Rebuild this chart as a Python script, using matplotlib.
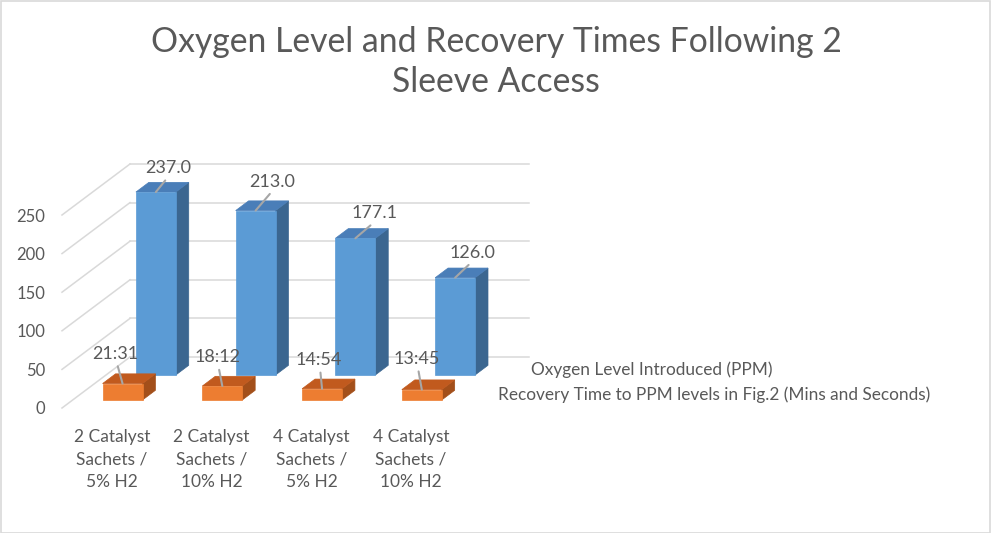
import matplotlib.pyplot as plt
import numpy as np
from matplotlib.patches import Polygon

plt.rcParams['font.family'] = ['Lato', 'DejaVu Sans']

# ---- data ----
categories = [
    "2 Catalyst\nSachets /\n5% H2",
    "2 Catalyst\nSachets /\n10% H2",
    "4 Catalyst\nSachets /\n5% H2",
    "4 Catalyst\nSachets /\n10% H2",
]
oxygen_ppm = [237.0, 213.0, 177.1, 126.0]
recovery_mins = [21.31, 18.12, 14.54, 13.45]
recovery_labels = ["21:31", "18:12", "14:54", "13:45"]
series_names = [
    "Recovery Time to PPM levels in Fig.2 (Mins and Seconds)",
    "Oxygen Level Introduced (PPM)",
]
y_ticks = [0, 50, 100, 150, 200, 250]

# ---- layout / style ----
W, H = 991, 533
FRONT_L, FRONT_R = 62, 461      # px, front plane x range
FRONT_B, FRONT_T = 408, 215     # px, front plane y for 0 and 250
DEPTH_PX = (68, -51)            # px offset from front plane to back wall
SX = (FRONT_R - FRONT_L) / 4.0
SY = (FRONT_B - FRONT_T) / 250.0
DX = DEPTH_PX[0] / SX           # category units per unit depth
DY = -DEPTH_PX[1] / SY          # value units per unit depth

BAR_W = 0.4
BAR_OFF = 0.3
BAR_DZ = 0.19
ROW_Z = [0.157, 0.647]          # orange row, blue row

BLUE = ("#5B9BD5", "#3B6690", "#4A7EB8")     # front, side, top
ORANGE = ("#ED7D31", "#A34F1A", "#C15A1E")
TEXT = "#595959"
GRID = "#D9D9D9"
LEADER = "#A6A6A6"

blue_label_off = [(12, 24), (17, 29), (19, 25), (17, 25)]
orange_label_off = [(-7, 30), (-5, 29), (-3, 29), (-5, 31)]


def proj(x, y, z):
    return (x + z * DX, y + z * DY)


def draw_bar(ax, x0, h, z0, colors):
    x1 = x0 + BAR_W
    z1 = z0 + BAR_DZ
    front = [proj(x0, 0, z0), proj(x1, 0, z0), proj(x1, h, z0), proj(x0, h, z0)]
    side = [proj(x1, 0, z0), proj(x1, 0, z1), proj(x1, h, z1), proj(x1, h, z0)]
    top = [proj(x0, h, z0), proj(x1, h, z0), proj(x1, h, z1), proj(x0, h, z1)]
    for verts, col in ((side, colors[1]), (top, colors[2]), (front, colors[0])):
        ax.add_patch(Polygon(verts, closed=True, facecolor=col, edgecolor=col,
                             linewidth=0.5, clip_on=False, zorder=3))
    return proj(x0 + BAR_W / 2, h, z0)


fig = plt.figure(figsize=(W / 100, H / 100), dpi=100)
ax = fig.add_axes([FRONT_L / W, (H - FRONT_B) / H, (FRONT_R - FRONT_L) / W,
                   (FRONT_B - FRONT_T) / H])
ax.set_xlim(0, 4)
ax.set_ylim(0, 250)
for sp in ax.spines.values():
    sp.set_visible(False)

# gridlines: back wall and left side wall
for v in y_ticks:
    bx0, by0 = proj(0, v, 1)
    bx1, by1 = proj(4, v, 1)
    ax.plot([bx0, bx1], [by0, by1], color=GRID, lw=1.1, clip_on=False, zorder=1)
    fx, fy = proj(0, v, 0)
    ax.plot([fx, bx0], [fy, by0], color=GRID, lw=1.1, clip_on=False, zorder=1)

ax.set_yticks(y_ticks)
ax.set_yticklabels([str(v) for v in y_ticks])
ax.set_xticks(np.arange(len(categories)) + 0.5)
ax.set_xticklabels(categories, linespacing=1.5)
ax.tick_params(axis='y', length=0, pad=12, labelsize=12, labelcolor=TEXT)
ax.tick_params(axis='x', length=0, pad=15, labelsize=12.5, labelcolor=TEXT)

# back row (oxygen) then front row (recovery)
for i, v in enumerate(oxygen_ppm):
    px, py = draw_bar(ax, i + BAR_OFF, v, ROW_Z[1], BLUE)
    ax.annotate(f"{v:.1f}", xy=(px, py), xytext=blue_label_off[i],
                textcoords='offset pixels', ha='center', va='center',
                fontsize=13, color=TEXT, annotation_clip=False, zorder=5,
                arrowprops=dict(arrowstyle='-', color=LEADER, lw=1.5,
                                shrinkA=1.5, shrinkB=0, relpos=(0.52, 0)))

for i, v in enumerate(recovery_mins):
    px, py = draw_bar(ax, i + BAR_OFF, v, ROW_Z[0], ORANGE)
    ax.annotate(recovery_labels[i], xy=(px, py), xytext=orange_label_off[i],
                textcoords='offset pixels', ha='center', va='center',
                fontsize=13, color=TEXT, annotation_clip=False, zorder=5,
                arrowprops=dict(arrowstyle='-', color=LEADER, lw=1.5,
                                shrinkA=1.5, shrinkB=0, relpos=(0.52, 0)))

# depth-axis (series) labels
for name, z in zip(series_names, ROW_Z):
    tx, ty = proj(4, 0, z + BAR_DZ / 2)
    ax.text(tx + 0.2, ty, name, ha='left', va='center', fontsize=12.4,
            color=TEXT, clip_on=False)

fig.text(496 / W, 1 - 62 / H, "Oxygen Level and Recovery Times Following 2\nSleeve Access",
         ha='center', va='center', fontsize=24.3, color=TEXT, linespacing=1.3)

# chart border
fig.add_artist(plt.Rectangle((0.5 / W, 0.5 / H), 1 - 1.5 / W, 1 - 1.5 / H,
                             transform=fig.transFigure, fill=False,
                             edgecolor=GRID, lw=1.2))

fig.savefig("out.png", dpi=100)
